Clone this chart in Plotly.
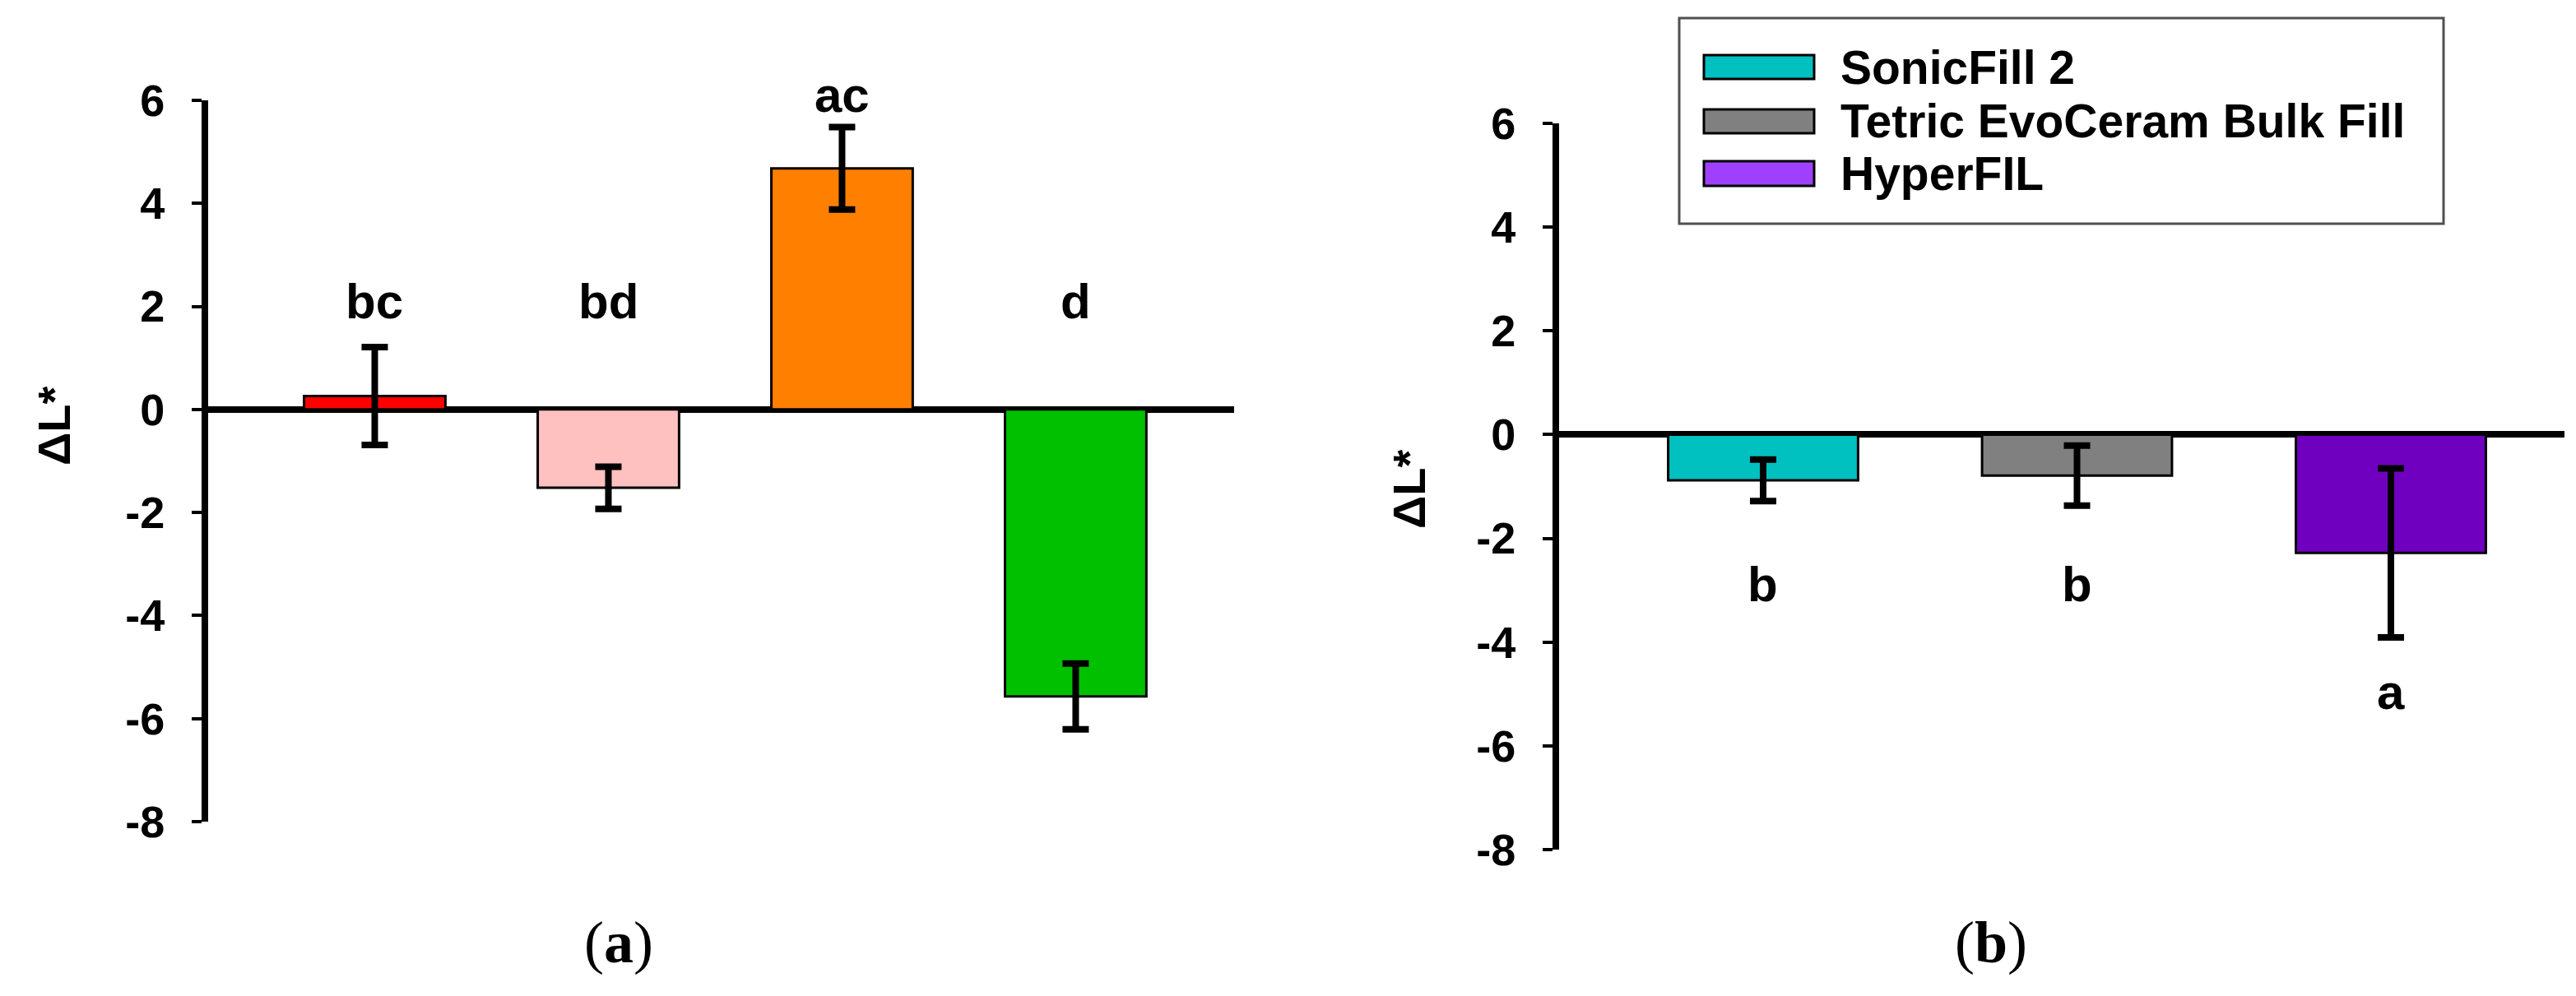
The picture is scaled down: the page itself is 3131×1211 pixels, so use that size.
import plotly.graph_objects as go

# ---------------- data ----------------
# Panel (a)
a_positions = [0, 1, 2, 3]
a_values = [0.26, -1.52, 4.68, -5.57]
a_errors = [0.95, 0.41, 0.80, 0.64]
a_colors = ["#FF0000", "#FFC0C0", "#FF8000", "#00C000"]
a_letters = ["bc", "bd", "ac", "d"]
a_letter_y = [2.1, 2.1, 6.1, 2.1]

# Panel (b)
b_materials = ["SonicFill 2", "Tetric EvoCeram Bulk Fill", "HyperFIL"]
b_positions = [0, 1, 2]
b_values = [-0.88, -0.79, -2.28]
b_errors = [0.40, 0.58, 1.63]
b_colors = ["#00C0C0", "#808080", "#7000C0"]
b_legend_colors = ["#00C0C0", "#808080", "#A040FF"]
b_letters = ["b", "b", "a"]
b_letter_y = [-2.88, -2.88, -4.97]

y_ticks = [6, 4, 2, 0, -2, -4, -6, -8]
y_range = [-8, 6]
y_title = "ΔL*"

# ---------------- layout helpers ----------------
W, H = 3131, 1211
OFF = 8  # default page body margin of the html page


def px(x):
    return (x - OFF) / W


def py(y):
    return 1 - (y - OFF) / H


FONT = "Arial, 'Liberation Sans', sans-serif"
SERIF = "'Times New Roman', 'Liberation Serif', serif"

fig = go.Figure()

fig.add_trace(go.Bar(
    x=a_positions, y=a_values, width=0.605,
    marker=dict(color=a_colors, line=dict(color="black", width=3)),
    error_y=dict(type="data", array=a_errors, color="black", thickness=8, width=16),
    showlegend=False, xaxis="x", yaxis="y",
))

fig.add_trace(go.Bar(
    x=b_positions, y=b_values, width=0.605,
    marker=dict(color=b_colors, line=dict(color="black", width=3)),
    error_y=dict(type="data", array=b_errors, color="black", thickness=8, width=16),
    showlegend=False, xaxis="x2", yaxis="y2", name="ΔL*",
    customdata=b_materials,
))

yax_common = dict(
    range=y_range, tickvals=y_ticks, ticktext=[str(t) for t in y_ticks],
    showline=True, linecolor="black", linewidth=8,
    ticks="outside", ticklen=12, tickwidth=4, tickcolor="black",
    tickfont=dict(family=FONT, size=54, color="black", weight="bold"),
    ticklabelstandoff=22, automargin=False,
    showgrid=False, zeroline=True, zerolinecolor="black", zerolinewidth=8,
)

fig.update_layout(
    template="none",
    width=W, height=H,
    margin=dict(l=0, r=0, t=0, b=0, pad=0, autoexpand=False),
    paper_bgcolor="white", plot_bgcolor="rgba(0,0,0,0)",
    showlegend=False,
    xaxis=dict(domain=[px(253), px(1500)], range=[-0.713, 3.678], visible=False, automargin=False),
    yaxis=dict(domain=[py(999), py(122)], anchor="x", **yax_common),
    xaxis2=dict(domain=[px(1895), px(3117)], range=[-0.650, 2.553], visible=False, automargin=False),
    yaxis2=dict(domain=[py(1033), py(150)], anchor="x2", **yax_common),
)

annotations = []


def letter(x, yy, lab, xref, yref, ppu):
    yp = min(yy, y_range[1])
    return dict(x=x, y=yp, yshift=(yy - yp) * ppu, xref=xref, yref=yref, text=lab,
                showarrow=False,
                font=dict(family=FONT, size=60, color="black", weight="bold"),
                xanchor="center", yanchor="middle")


for x, lab, yy in zip(a_positions, a_letters, a_letter_y):
    annotations.append(letter(x, yy, lab, "x", "y", 62.6))
for x, lab, yy in zip(b_positions, b_letters, b_letter_y):
    annotations.append(letter(x, yy, lab, "x2", "y2", 63.1))

# axis titles
for tx, ty in [(66, 518), (1712, 595)]:
    annotations.append(dict(x=px(tx), y=py(ty), xref="paper", yref="paper", text=y_title,
                            textangle=-90, showarrow=False, xanchor="center", yanchor="middle",
                            font=dict(family=FONT, size=56, color="black", weight="bold")))

# panel labels
for tx, lab in [(752, "a"), (2420, "b")]:
    annotations.append(dict(x=px(tx), y=py(1146), xref="paper", yref="paper",
                            text="(<b>%s</b>)" % lab, showarrow=False,
                            xanchor="center", yanchor="middle",
                            font=dict(family=SERIF, size=72, color="black")))

# legend for panel (b)
shapes = [dict(type="rect", xref="paper", yref="paper",
               x0=px(2041), x1=px(2970), y0=py(272), y1=py(22),
               line=dict(color="#505050", width=3), fillcolor="white", layer="above")]
sw_y = [(67, 96), (133, 162), (196, 226)]
for (y0, y1), col, name in zip(sw_y, b_legend_colors, b_materials):
    shapes.append(dict(type="rect", xref="paper", yref="paper",
                       x0=px(2071), x1=px(2205), y0=py(y1), y1=py(y0),
                       line=dict(color="black", width=3), fillcolor=col, layer="above"))
    annotations.append(dict(x=px(2235), y=py((y0 + y1) / 2), xref="paper", yref="paper",
                            text=name, showarrow=False, xanchor="left", yanchor="middle",
                            font=dict(family=FONT, size=57, color="black", weight="bold")))

fig.update_layout(annotations=annotations, shapes=shapes)

fig.write_html("out.html")
